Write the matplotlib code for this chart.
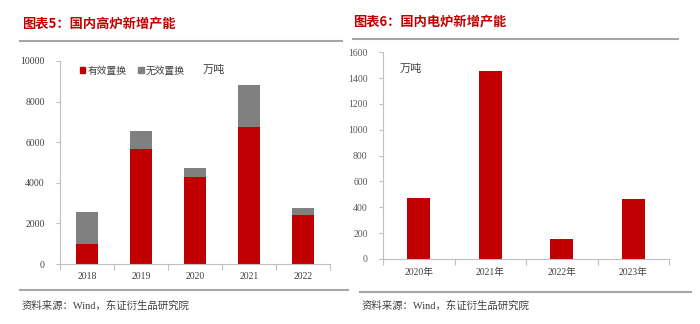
import matplotlib
matplotlib.use("Agg")
import matplotlib.pyplot as plt
from matplotlib.lines import Line2D
from matplotlib.patches import Patch
import numpy as np

plt.rcParams["font.family"] = ["Noto Sans CJK SC", "DejaVu Sans"]

# data: blast furnace new capacity (万吨)
bf_years = ["2018", "2019", "2020", "2021", "2022"]
bf_effective = [970, 5670, 4310, 6750, 2430]
bf_invalid = [1570, 870, 430, 2050, 310]

# data: electric furnace new capacity (万吨)
ef_years = ["2020年", "2021年", "2022年", "2023年"]
ef_capacity = [475, 1455, 152, 462]

RED = "#C00000"
GRAY = "#808080"
AXIS = "#BFBFBF"
TITLE_RED = "#C00000"

W, H = 700, 324
fig = plt.figure(figsize=(W / 100, H / 100), dpi=100)


def px_axes(x0, y0, x1, y1):
    return fig.add_axes([x0 / W, 1 - y1 / H, (x1 - x0) / W, (y1 - y0) / H])


def style_axes(ax, n):
    for side in ("top", "right"):
        ax.spines[side].set_visible(False)
    for side in ("left", "bottom"):
        ax.spines[side].set_color(AXIS)
        ax.spines[side].set_linewidth(0.8)
    ax.set_xlim(-0.5, n - 0.5)
    ax.set_xticks(np.arange(n))
    ax.set_xticks(np.arange(n + 1) - 0.5, minor=True)
    ax.tick_params(axis="x", which="major", length=0, pad=6)
    ax.tick_params(axis="x", which="minor", length=4, color=AXIS, width=0.8)
    ax.tick_params(axis="y", length=3, color=AXIS, width=0.8, pad=8)
    for lab in ax.get_xticklabels() + ax.get_yticklabels():
        lab.set_fontfamily(["Liberation Serif", "Noto Sans CJK SC"])
        lab.set_fontsize(7)
        lab.set_color("#404040")


# left chart: 高炉
ax1 = px_axes(60, 61, 330, 264)
x1 = np.arange(len(bf_years))
ax1.bar(x1, bf_effective, width=0.41, color=RED, label="有效置换")
ax1.bar(x1, bf_invalid, width=0.41, bottom=bf_effective, color=GRAY, label="无效置换")
ax1.set_ylim(0, 10000)
ax1.set_yticks(np.arange(0, 10001, 2000))
ax1.set_xticks(x1)
ax1.set_xticklabels(bf_years)
style_axes(ax1, len(bf_years))
handles = [Patch(color=RED), Patch(color=GRAY)]
ax1.legend(handles, ["有效置换", "无效置换"], ncol=2, frameon=False,
           loc="upper left", bbox_to_anchor=(0.04, 1.02), fontsize=7,
           handlelength=0.6, handleheight=0.6, handletextpad=0.2,
           columnspacing=1.2, labelcolor="#404040")
ax1.text(0.53, 0.955, "万吨", transform=ax1.transAxes, fontsize=8,
         color="#404040", va="center")

# right chart: 电炉
ax2 = px_axes(383, 52.3, 669, 259)
x2 = np.arange(len(ef_years))
ax2.bar(x2, ef_capacity, width=0.32, color=RED)
ax2.set_ylim(0, 1600)
ax2.set_yticks(np.arange(0, 1601, 200))
ax2.set_xticks(x2)
ax2.set_xticklabels(ef_years)
style_axes(ax2, len(ef_years))
for lab in ax2.get_yticklabels():
    lab.set_color("#595959")
ax2.text(0.06, 0.92, "万吨", transform=ax2.transAxes, fontsize=8,
         color="#404040", va="center")

# titles, rules, sources
fig.text(22 / W, 1 - 23 / H, "图表5：国内高炉新增产能", fontsize=9.5,
         fontweight="bold", color=TITLE_RED, va="center")
fig.text(353 / W, 1 - 21 / H, "图表6：国内电炉新增产能", fontsize=9.5,
         fontweight="bold", color=TITLE_RED, va="center")

for (xa, xb, y) in [(20, 342, 41), (353, 678, 38.5), (20, 348, 290), (360, 691, 292)]:
    fig.add_artist(Line2D([xa / W, xb / W], [1 - y / H, 1 - y / H],
                          color="#A6A6A6", linewidth=1.5))

for xs in (22, 362):
    fig.text(xs / W, 1 - 306 / H, "资料来源：Wind，东证衍生品研究院", fontsize=7.5,
             color="#404040", va="center",
             family=["Liberation Serif", "Noto Sans CJK SC"])

fig.savefig("out.png", dpi=100)
